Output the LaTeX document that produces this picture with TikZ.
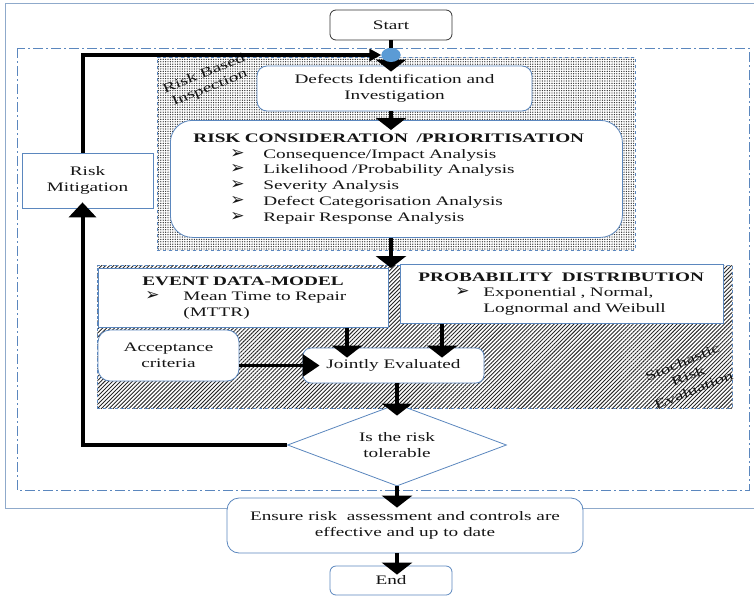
\documentclass[tikz,border=0pt]{standalone}
\usepackage{fontspec}
\setmainfont{Liberation Serif}[FakeStretch=1.48]
\newfontfamily\dejavu{DejaVu Sans}
\usetikzlibrary{arrows.meta,shapes.geometric,patterns.meta}
\definecolor{boxblue}{HTML}{5B87BE}
\definecolor{frameblue}{HTML}{8FAACB}
\definecolor{dotblue}{HTML}{5B9BD5}
\definecolor{txt}{HTML}{151515}
\newcommand\bul[1][33pt]{\makebox[#1][l]{\dejavu\fontsize{17}{12}\selectfont ➢}}
\begin{document}
\begin{tikzpicture}[x=1pt,y=-1pt,
  every node/.style={font=\fontsize{13}{15.7}\selectfont, text=txt},
  bbox/.style={draw=boxblue, line width=0.8pt, fill=white, inner sep=0pt},
  rbox/.style={bbox, rounded corners=9pt},
  kbox/.style={draw=black!80, line width=0.8pt, fill=white, rounded corners=6pt, inner sep=0pt},
  region/.style={draw=boxblue, dashed, line width=0.7pt, inner sep=0pt, anchor=north west},
  vflow/.style={line width=4.5pt, -{Triangle[width=30pt,length=12pt]}, shorten >=-10pt},
  hflow/.style={line width=3.6pt, -{Triangle[width=22pt,length=17pt]}},
  loopline/.style={line width=4pt},
  rotlabel/.style={rotate=22, align=center, font=\fontsize{13}{15}\selectfont}
]
\useasboundingbox (0,0) rectangle (754,597);

% frames
\draw[frameblue, line width=1pt] (754,3) -- (5,3) -- (5,508) -- (754,508);
\draw[boxblue, line width=0.8pt, dash pattern=on 10pt off 3pt on 2pt off 3pt] (17,48) rectangle (749,490);

% shaded regions
\node[region, minimum width=478pt, minimum height=193pt,
      pattern={Dots[distance=2.4pt, radius=0.7pt]}, pattern color=black!80] (rbi) at (157,57) {};
\node[region, minimum width=635pt, minimum height=143pt,
      pattern={Lines[angle=45, distance=2.8pt, line width=0.9pt]}, pattern color=black!85] (sre) at (97,265) {};

\node[rotlabel] (rbilabel) at (207,81) {Risk Based\\Inspection};
\node[rotlabel] (srelabel) at (688,376) {Stochastic\\Risk\\Evaluation};

% boxes
\node[kbox, minimum width=122pt, minimum height=30pt] (start) at (391,25) {Start};
\node[rbox, rounded corners=10pt, minimum width=275pt, minimum height=45pt, align=center] (defects) at (394.5,88.5) {Defects Identification and\\Investigation};
\node[rbox, rounded corners=22pt, anchor=north west, minimum width=452pt, minimum height=117pt, text width=452pt, align=left] (risk) at (170,120) {%
\hspace*{23pt}\textbf{RISK CONSIDERATION \ /PRIORITISATION}\\
\hspace*{60pt}\bul Consequence/Impact Analysis\\
\hspace*{60pt}\bul Likelihood /Probability Analysis\\
\hspace*{60pt}\bul Severity Analysis\\
\hspace*{60pt}\bul Defect Categorisation Analysis\\
\hspace*{60pt}\bul Repair Response Analysis};
\node[bbox, minimum width=131pt, minimum height=55pt, align=center] (mit) at (87.5,180.5) {Risk\\Mitigation};

\node[bbox, anchor=north west, minimum width=290pt, minimum height=59pt, text width=290pt, align=left] (event) at (98,268) {%
\hspace*{44pt}\textbf{EVENT DATA-MODEL}\\
\hspace*{47pt}\bul[38pt]Mean Time to Repair\\
\hspace*{85pt}(MTTR)};
\node[bbox, anchor=north west, minimum width=323pt, minimum height=59pt, text width=323pt, align=left] (prob) at (400,264) {%
\hspace*{18pt}\textbf{PROBABILITY \ DISTRIBUTION}\\
\hspace*{55pt}\bul[28pt]Exponential , Normal,\\
\hspace*{83pt}Lognormal and Weibull};
\node[rbox, rounded corners=12pt, minimum width=141pt, minimum height=51pt, align=center] (acc) at (168.5,355.5) {Acceptance\\criteria};
\node[rbox, rounded corners=8pt, minimum width=181pt, minimum height=35pt] (jointly) at (393.5,365.5) {Jointly Evaluated};

\node[diamond, draw=boxblue, line width=0.8pt, fill=white, minimum width=219pt, minimum height=82pt, aspect=2.5, inner sep=0pt, align=center] (dia) at (397,445) {Is the risk\\tolerable};

\node[rbox, rounded corners=12pt, minimum width=356pt, minimum height=55pt, align=center] (ensure) at (405,525.5) {Ensure risk\ \ assessment and controls are\\effective and up to date};
\node[rbox, rounded corners=6pt, minimum width=122pt, minimum height=29pt] (end) at (391,580.5) {End};

% junction dot
\node[ellipse, fill=dotblue, minimum width=19pt, minimum height=14pt, inner sep=0pt] (dot) at (391,55) {};

% helper coordinates
\coordinate (lt) at (82.5,55);
\coordinate (lb) at (82.5,445);
\coordinate (ja) at ([xshift=-46.5pt]jointly.north);
\coordinate (jb) at ([xshift=48.5pt]jointly.north);

% connectors
\draw[line width=4.5pt] (start.south) -- (dot.north);
\draw[vflow, shorten >=-6pt] (dot.south) -- (dot.south |- defects.north);
\draw[vflow] (dot.south |- defects.south) -- (dot.south |- risk.north);
\draw[vflow, shorten >=-3pt] (dot.south |- risk.south) -- (dot.south |- sre.north);
\draw[vflow] (event.south -| ja) -- (ja);
\draw[vflow] (prob.south -| jb) -- (jb);
\draw[hflow, shorten >=-17pt] (jointly.west -| acc.east) -- (jointly.west);
\draw[vflow, shorten >=-12pt] (jointly.south -| dia.north) -- (dia.north);
\draw[vflow] (dia.south) -- (dia.south |- ensure.north);
\draw[vflow, shorten >=-9pt] (dia.south |- ensure.south) -- (dia.south |- end.north);
\draw[loopline, -{Triangle[width=27pt,length=15pt]}, shorten >=-6pt] (dia.west) -- (lb) -- (mit.south -| lb);
\draw[loopline, -{Triangle[width=12pt,length=12pt]}] (mit.north -| lt) -- (lt) -- (dot.west);
\node[ellipse, fill=dotblue, minimum width=19pt, minimum height=14pt, inner sep=0pt] (dottop) at (dot) {};
\end{tikzpicture}
\end{document}
